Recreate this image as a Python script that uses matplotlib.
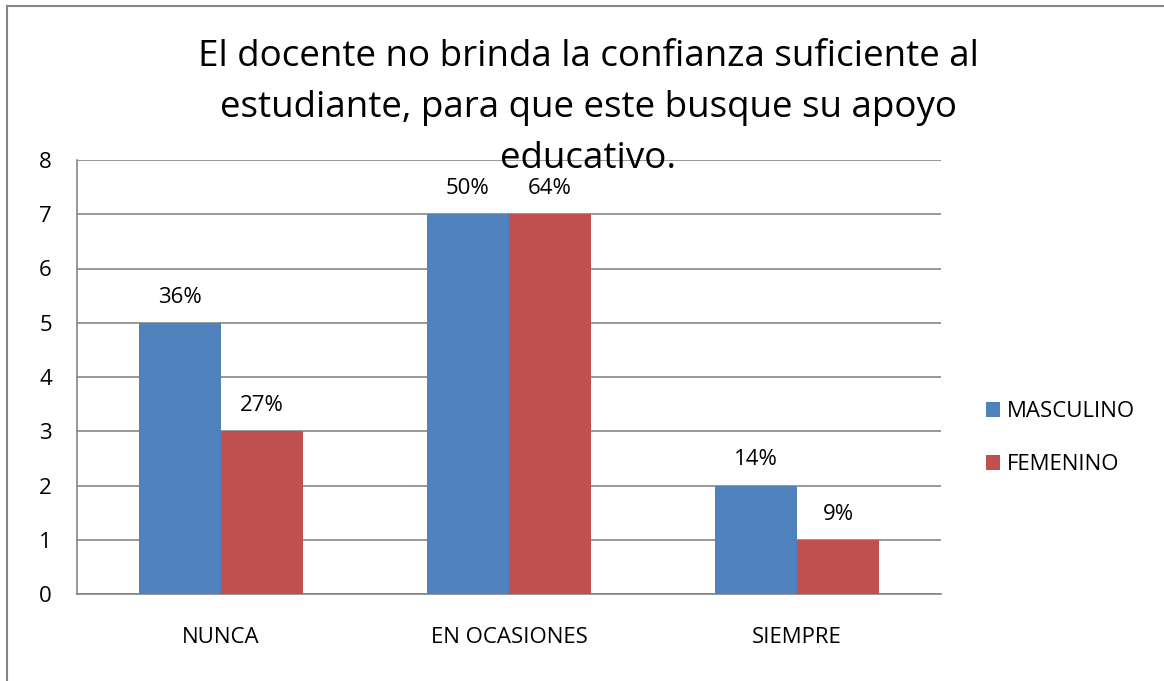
import matplotlib.pyplot as plt
import numpy as np
from matplotlib.lines import Line2D

categorias = ['NUNCA', 'EN OCASIONES', 'SIEMPRE']
masculino = [5, 7, 2]
femenino = [3, 7, 1]
etiq_masc = ['36%', '50%', '14%']
etiq_fem = ['27%', '64%', '9%']

plt.rcParams['font.family'] = ['Open Sans', 'DejaVu Sans']

W, H = 1164, 681
fig = plt.figure(figsize=(W / 100, H / 100), dpi=100)
ax = fig.add_axes([77 / W, 1 - 594 / H, 864 / W, 434 / H])

x = np.arange(len(categorias))
w = 0.285
azul = '#4F81BD'
rojo = '#C0504D'
b1 = ax.bar(x - w / 2, masculino, w, color=azul, label='MASCULINO', zorder=3)
b2 = ax.bar(x + w / 2, femenino, w, color=rojo, label='FEMENINO', zorder=3)

for barras, etiquetas in [(b1, etiq_masc), (b2, etiq_fem)]:
    for b, t in zip(barras, etiquetas):
        ax.text(b.get_x() + b.get_width() / 2, b.get_height() + 0.28, t,
                ha='center', va='bottom', fontsize=16)

ax.set_xlim(-0.5, 2.5)
ax.set_ylim(0, 8)
ax.set_yticks(range(0, 9))
ax.set_xticks(x)
ax.set_xticklabels(categorias)
ax.grid(axis='y', color='#868686', linewidth=1.2, zorder=0)
for s in ['top', 'right']:
    ax.spines[s].set_visible(False)
for s in ['left', 'bottom']:
    ax.spines[s].set_color('#868686')
    ax.spines[s].set_linewidth(1.2)
ax.tick_params(axis='y', labelsize=16, length=0, pad=18)
ax.tick_params(axis='x', labelsize=16, length=0, pad=24)

fig.text(588 / W, 1 - 108 / H,
         'El docente no brinda la confianza suficiente al\nestudiante, para que este busque su apoyo\neducativo.',
         ha='center', va='center', fontsize=26.5, linespacing=1.55)

ax.legend(loc='center left', bbox_to_anchor=(966 / W, 1 - 438 / H),
          bbox_transform=fig.transFigure, frameon=False, fontsize=16,
          handlelength=0.65, handleheight=0.65, handletextpad=0.3, labelspacing=1.45)

fig.add_artist(Line2D([7 / W, 7 / W], [0, 1 - 6 / H], transform=fig.transFigure,
                      color='#868686', linewidth=1.5))
fig.add_artist(Line2D([7 / W, 1], [1 - 6 / H, 1 - 6 / H], transform=fig.transFigure,
                      color='#868686', linewidth=1.5))

fig.savefig('out.png', dpi=100)
